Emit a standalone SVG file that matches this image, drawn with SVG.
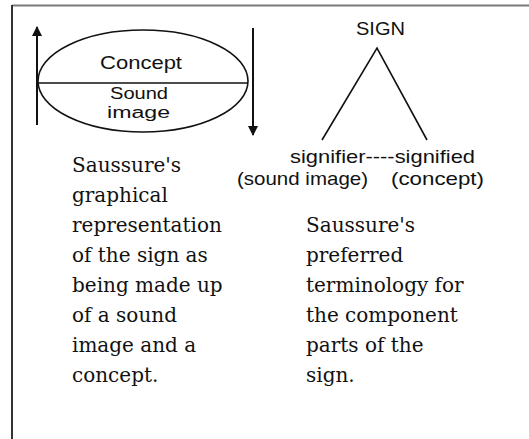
<svg xmlns="http://www.w3.org/2000/svg" width="529" height="439" viewBox="0 0 529 439">
  <style>
    .sans { font-family: "Liberation Sans", Arial, sans-serif; font-size: 19px; fill: #111; }
    .small { font-size: 16px; }
    .serif { font-family: "DejaVu Serif", "Liberation Serif", serif; font-size: 20px; fill: #111; }
    .line { stroke: #111; fill: none; }
  </style>
  <defs>
    <marker id="arrow" viewBox="0 0 10 10" refX="9" refY="5" markerWidth="10" markerHeight="10" markerUnits="userSpaceOnUse" orient="auto">
      <path d="M0,0 L10,5 L0,10 z" fill="#111"/>
    </marker>
  </defs>
  <rect width="529" height="439" fill="#fff"/>

  <!-- frame: top rule and left rule -->
  <g id="frame">
    <line x1="12" y1="5.5" x2="529" y2="5.5" stroke="#7a7a7a" stroke-width="2"/>
    <line x1="12" y1="5" x2="12" y2="439" stroke="#333" stroke-width="2"/>
  </g>

  <!-- Saussure's graphical model: split ellipse -->
  <g id="sign-ellipse">
    <ellipse class="line" cx="143" cy="81" rx="105" ry="51" stroke-width="1.6"/>
    <line class="line" x1="38" y1="83" x2="248" y2="83" stroke-width="1.6"/>
    <text class="sans" x="100" y="69" textLength="82" lengthAdjust="spacingAndGlyphs">Concept</text>
    <text class="sans small" x="110" y="99" textLength="58" lengthAdjust="spacingAndGlyphs">Sound</text>
    <text class="sans small" x="107" y="118" textLength="63" lengthAdjust="spacingAndGlyphs">image</text>
  </g>

  <g id="sign-label">
    <text class="sans" x="356" y="35" textLength="49" lengthAdjust="spacingAndGlyphs">SIGN</text>
  </g>

  <g id="signifier-signified">
    <text class="sans" x="290" y="163" textLength="185" lengthAdjust="spacingAndGlyphs">signifier----signified</text>
  </g>

  <g id="sound-image">
    <text class="sans" x="237" y="185" textLength="131" lengthAdjust="spacingAndGlyphs">(sound image)</text>
  </g>

  <g id="concept">
    <text class="sans" x="391" y="185" textLength="93" lengthAdjust="spacingAndGlyphs">(concept)</text>
  </g>

  <!-- connectors: arrows beside the ellipse and the SIGN branches -->
  <g id="connectors">
    <line class="line" x1="37" y1="125" x2="37" y2="27" stroke-width="2" marker-end="url(#arrow)"/>
    <line class="line" x1="253" y1="28" x2="253" y2="135" stroke-width="2" marker-end="url(#arrow)"/>
    <polyline class="line" points="322,140 377,48 427,140" stroke-width="1.6"/>
  </g>

  <g id="caption-left">
    <text class="serif" x="72">
      <tspan x="72" y="172">Saussure's</tspan>
      <tspan x="72" y="202">graphical</tspan>
      <tspan x="72" y="232">representation</tspan>
      <tspan x="72" y="262">of the sign as</tspan>
      <tspan x="72" y="292">being made up</tspan>
      <tspan x="72" y="322">of a sound</tspan>
      <tspan x="72" y="352">image and a</tspan>
      <tspan x="72" y="382">concept.</tspan>
    </text>
  </g>

  <g id="caption-right">
    <text class="serif" x="306">
      <tspan x="306" y="232">Saussure's</tspan>
      <tspan x="306" y="262">preferred</tspan>
      <tspan x="306" y="292">terminology for</tspan>
      <tspan x="306" y="322">the component</tspan>
      <tspan x="306" y="352">parts of the</tspan>
      <tspan x="306" y="382">sign.</tspan>
    </text>
  </g>
</svg>
